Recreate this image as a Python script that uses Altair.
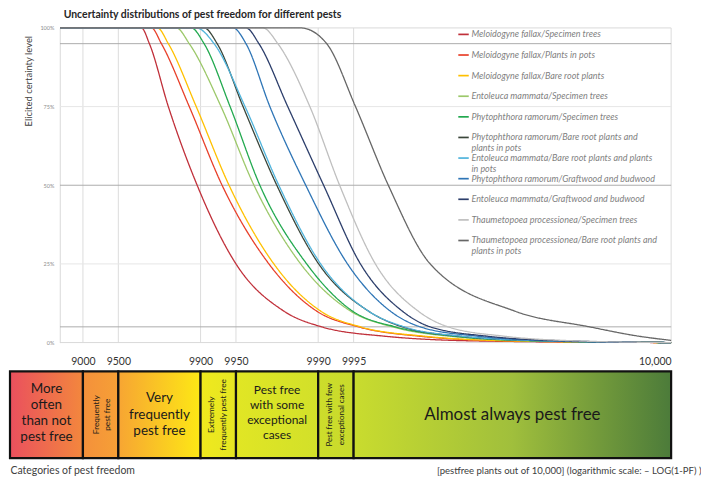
import json
import altair as alt
import pandas as pd

TITLE = "Uncertainty distributions of pest freedom for different pests"

series = [
    "Meloidogyne fallax/Specimen trees",
    "Meloidogyne fallax/Plants in pots",
    "Meloidogyne fallax/Bare root plants",
    "Entoleuca mammata/Specimen trees",
    "Phytophthora ramorum/Specimen trees",
    "Phytophthora ramorum/Bare root plants and plants in pots",
    "Entoleuca mammata/Bare root plants and plants in pots",
    "Phytophthora ramorum/Graftwood and budwood",
    "Entoleuca mammata/Graftwood and budwood",
    "Thaumetopoea processionea/Specimen trees",
    "Thaumetopoea processionea/Bare root plants and plants in pots",
]
colors = ["#c0303a", "#e8402a", "#ffc000", "#9cc86a", "#22a94f", "#3a463a",
          "#50b4dc", "#2e75b6", "#2c3e6b", "#bfbfbf", "#666666"]

# x = -log10(1 - PF)  (9000 -> 1, 9900 -> 2, 9990 -> 3 ...), y = elicited certainty level (%)
lv = [100, 100, 95, 75, 50, 25, 10, 5, 2, 0.5, 0]
lv_last = [100, 100, 95, 75, 50, 25, 10, 5, 2, 0.7]
x_mf_st = [0.805, 1.497, 1.565, 1.726, 1.971, 2.301, 2.708, 3.029, 3.571, 4.375, 6.0]
x_mf_pp = [0.805, 1.582, 1.667, 1.904, 2.183, 2.581, 2.987, 3.342, 3.867, 4.629, 6.0]
x_mf_br = [0.805, 1.633, 1.726, 1.963, 2.242, 2.623, 3.021, 3.359, 3.910, 4.671, 6.0]
x_em_st = [0.805, 1.794, 1.904, 2.174, 2.454, 2.851, 3.275, 3.630, 4.121, 4.883, 6.0]
x_pr_st = [0.805, 1.920, 2.030, 2.251, 2.504, 2.902, 3.292, 3.656, 4.163, 4.883, 6.0]
x_pr_br = [0.805, 2.030, 2.141, 2.361, 2.648, 3.004, 3.427, 3.715, 4.206, 4.967, 6.0]
x_em_br = [0.805, 1.963, 2.115, 2.378, 2.665, 3.021, 3.427, 3.732, 4.223, 4.967, 6.0]
x_pr_gb = [0.805, 2.276, 2.386, 2.589, 2.894, 3.249, 3.613, 3.867, 4.358, 5.052, 6.0]
x_em_gb = [0.805, 2.386, 2.496, 2.741, 3.046, 3.359, 3.715, 3.952, 4.443, 5.137, 6.0]
x_tp_st = [0.805, 2.530, 2.657, 2.929, 3.182, 3.486, 3.850, 4.104, 4.587, 5.221, 6.0]
x_tp_br = [0.805, 2.851, 3.072, 3.317, 3.596, 3.952, 4.671, 5.306, 5.729, 6.0]
curve_x = [x_mf_st, x_mf_pp, x_mf_br, x_em_st, x_pr_st, x_pr_br, x_em_br,
           x_pr_gb, x_em_gb, x_tp_st, x_tp_br]
curve_lv = [lv] * 10 + [lv_last]

tick_t = [1.0, 1.30103, 2.0, 2.30103, 3.0, 3.30103]
plot_t = [0.805, 6.0]
grid_major = [5, 50, 95]
grid_minor = [25, 75]
grid_zero = [0, 100]

categories = [
    "More often than not pest free",
    "Frequently pest free",
    "Very frequently pest free",
    "Extremely frequently pest free",
    "Pest free with some exceptional cases",
    "Pest free with few exceptional cases",
    "Almost always pest free",
]
cat_edges = [0.38, 1.0, 1.30103, 2.0, 2.30103, 3.0, 3.30103, 6.0]
cat_text = [
    "More\noften\nthan not\npest free",
    "Frequently\npest free",
    "Very\nfrequently\npest free",
    "Extremely\nfrequently pest free",
    "Pest free\nwith some\nexceptional\ncases",
    "Pest free with few\nexceptional cases",
    "Almost always pest free",
]

# legend label wrapping (first line / second line)
wraps = {
    series[5]: ["Phytophthora ramorum/Bare root plants and", "plants in pots"],
    series[6]: ["Entoleuca mammata/Bare root plants and plants", "in pots"],
    series[10]: ["Thaumetopoea processionea/Bare root plants and", "plants in pots"],
}

# ---------------- frames ----------------
rows = []
for s, xs, ls in zip(series, curve_x, curve_lv):
    for t, l in zip(xs, ls):
        rows.append({"series": s, "line2": "2|" + s, "t": t, "level": l})
curve_df = pd.DataFrame(rows)
series2 = ["2|" + s for s in series]

vgrid_df = pd.DataFrame({"t": tick_t + [plot_t[1]], "l0": 0, "l1": 100})
hmaj_df = pd.DataFrame({"level": grid_major, "t0": plot_t[0], "t1": plot_t[1]})
hmin_df = pd.DataFrame({"level": grid_minor, "t0": plot_t[0], "t1": plot_t[1]})
hzero_df = pd.DataFrame({"level": grid_zero, "t0": plot_t[0], "t1": plot_t[1]})

band_df = pd.DataFrame({
    "cat": categories, "t0": cat_edges[:-1], "t1": cat_edges[1:],
    "y0": 0, "y1": 1, "text": cat_text,
})

# ---------------- scales / axes ----------------
W, H, HB = 664, 316, 87
FONT = "Lato"
x_scale = alt.Scale(domain=[cat_edges[0], plot_t[1]], nice=False, zero=False)
y_scale = alt.Scale(domain=[0, 100], nice=False, zero=False)

x_axis = alt.Axis(
    values=tick_t + [plot_t[1]],
    labelExpr="datum.value > 5.9 ? '10,000' : format(10000 - pow(10, 4 - datum.value), 'd')",
    grid=False, domain=False, ticks=False, labelFont=FONT, labelFontSize=10.5,
    labelColor="#333333", labelPadding=14, labelFlush=True, labelOverlap=False, title=None,
)
y_axis = alt.Axis(
    values=[0, 25, 50, 75, 100], labelExpr="datum.value + '%'", offset=-50,
    grid=False, ticks=False, domain=True, domainColor="#d9d9d9", domainWidth=1,
    labelFont=FONT, labelFontSize=5.5, labelColor="#8c8c8c", labelPadding=6,
    title="Elicited certainty level", titleFont=FONT, titleFontSize=9.5,
    titleFontWeight="normal", titleColor="#404040", titleAngle=270,
    titleX=-28, titleY=53, titleAlign="center", titleBaseline="alphabetic",
)

expr1 = " : ".join(
    f"datum.label === {json.dumps(k)} ? {json.dumps(v[0])}" for k, v in wraps.items()
) + " : datum.label"
expr2 = " : ".join(
    f"datum.label === {json.dumps('2|' + k)} ? {json.dumps(v[1])}" for k, v in wraps.items()
) + " : '\u00a0'"

leg_common = dict(
    orient="none", legendX=449, title=None, symbolType="stroke",
    symbolSize=110, symbolStrokeWidth=1.7, labelFont=FONT, labelFontSize=9.0,
    labelFontStyle="italic", labelColor="#7f7f7f", labelLimit=400, rowPadding=8.7,
    labelOffset=1.5, padding=0,
)
legend1 = alt.Legend(legendY=0, labelExpr=expr1, **leg_common)
legend2 = alt.Legend(legendY=10.6, labelExpr=expr2, symbolOpacity=0, **leg_common)

def X(field):
    return alt.X(field, scale=x_scale, axis=x_axis)

def Y(field):
    return alt.Y(field, scale=y_scale, axis=y_axis)

vgrid = alt.Chart(vgrid_df).mark_rule(color="#dcdcdc", strokeWidth=1).encode(
    x=X("t:Q"), y=Y("l0:Q"), y2="l1:Q")
hzero = alt.Chart(hzero_df).mark_rule(color="#d9d9d9", strokeWidth=1).encode(
    x=X("t0:Q"), x2="t1:Q", y=Y("level:Q"))
hmin = alt.Chart(hmin_df).mark_rule(color="#e6e6e6", strokeWidth=1).encode(
    x=X("t0:Q"), x2="t1:Q", y=Y("level:Q"))
hmaj = alt.Chart(hmaj_df).mark_rule(color="#ababab", strokeWidth=1).encode(
    x=X("t0:Q"), x2="t1:Q", y=Y("level:Q"))
lines = alt.Chart(curve_df).mark_line(interpolate="monotone", strokeWidth=1.3).encode(
    x=X("t:Q"), y=Y("level:Q"),
    color=alt.Color("series:N", scale=alt.Scale(domain=series, range=colors), legend=legend1),
    strokeDash=alt.StrokeDash("line2:N", scale=alt.Scale(domain=series2, range=[[1, 0]] * len(series2)),
                              legend=legend2),
)
top = alt.layer(vgrid, hzero, hmin, hmaj, lines).properties(width=W, height=H)

# ---------------- category band ----------------
band_y_scale = alt.Scale(domain=[0, 1], nice=False, zero=False)
band_x_axis = alt.Axis(
    labels=False, ticks=False, domain=False, grid=False,
    title="Categories of pest freedom", titleFont=FONT, titleFontSize=10.5,
    titleFontWeight="normal", titleColor="#404040", titleAnchor="start",
    titleAlign="left", titleX=0, titleY=15, titleBaseline="alphabetic",
)
band_y_axis = alt.Axis(
    labels=False, ticks=False, domain=False, grid=False,
    title="[pestfree plants out of 10,000] (logarithmic scale: \u2013 LOG(1-PF) )",
    titleFont=FONT, titleFontSize=9.6, titleFontWeight="normal", titleColor="#404040",
    titleAngle=0, titleAlign="right", titleBaseline="alphabetic", titleX=694, titleY=103,
)

grads = [
    ["#ea505e", "#f3873d"],
    ["#f4903b", "#f6a036"],
    ["#f7a533", "#fde815"],
    ["#f0e91d", "#e5e623"],
    ["#e1e624", "#d2e02a"],
    ["#cddd2b", "#c8da2c"],
    ["#c9dc2e", "#a0bf3c", "#4c7b3a"],
]
text_styles = [
    dict(fontSize=13.5, lineHeight=16, dy=-26, angle=0),
    dict(fontSize=8.3, lineHeight=11.6, dy=-4, angle=270),
    dict(fontSize=13.5, lineHeight=16.5, dy=-16.5, angle=0),
    dict(fontSize=8.3, lineHeight=12, dy=-6, angle=270),
    dict(fontSize=12, lineHeight=15, dy=-24.5, angle=0),
    dict(fontSize=8, lineHeight=12, dy=-6, angle=270),
    dict(fontSize=17, lineHeight=20, dy=0, angle=0),
]

band_layers = []
for i, cat in enumerate(categories):
    stops = [alt.GradientStop(color=c, offset=k / (len(grads[i]) - 1)) for k, c in enumerate(grads[i])]
    grad = alt.LinearGradient(gradient="linear", stops=stops, x1=0, x2=1, y1=0, y2=0)
    band_layers.append(
        alt.Chart(band_df).transform_filter(alt.datum.cat == cat)
        .mark_rect(fill=grad, stroke="#111111", strokeWidth=2.2)
        .encode(
            x=alt.X("t0:Q", scale=x_scale, axis=band_x_axis), x2="t1:Q",
            y=alt.Y("y0:Q", scale=band_y_scale, axis=band_y_axis), y2="y1:Q",
        )
    )
for i, cat in enumerate(categories):
    st = text_styles[i]
    band_layers.append(
        alt.Chart(band_df).transform_filter(alt.datum.cat == cat)
        .transform_calculate(tc="(datum.t0 + datum.t1) / 2")
        .mark_text(lineBreak="\n", font=FONT, color="#1a1a1a", align="center",
                   baseline="middle", **st)
        .encode(
            x=alt.X("tc:Q", scale=x_scale, axis=band_x_axis),
            y=alt.YDatum(0.5, scale=band_y_scale, axis=band_y_axis),
            text="text:N",
        )
    )
band = alt.layer(*band_layers).properties(width=W, height=HB)

chart = (
    alt.vconcat(top, band, spacing=2)
    .properties(
        title=alt.TitleParams(TITLE, anchor="start", dx=55, fontSize=10.5, font=FONT,
                              fontWeight="bold", color="#262626", offset=5),
        padding=0,
    )
    .configure_view(stroke=None)
)

chart.save("out.html", embed_options={"renderer": "svg", "actions": False})
